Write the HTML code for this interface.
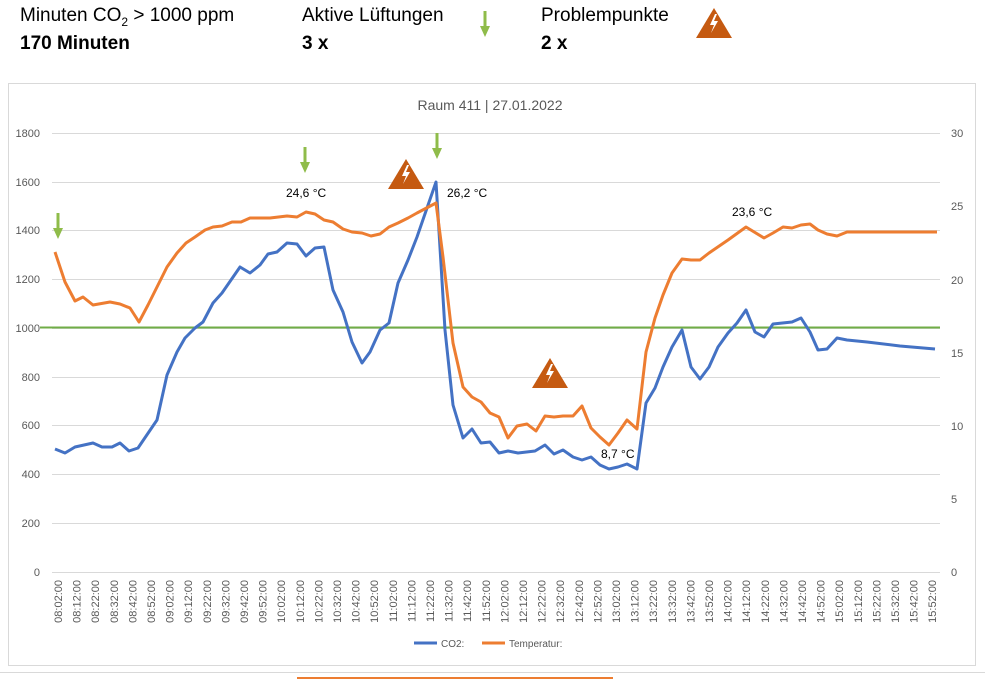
<!DOCTYPE html>
<html><head><meta charset="utf-8"><style>
body{margin:0;width:996px;height:680px;background:#fff;overflow:hidden;font-family:"Liberation Sans",sans-serif;position:relative}
.h{position:absolute;font-size:19px;color:#000}
.b{font-weight:bold}
</style></head><body>
<div class="h" style="left:20px;top:5px">Minuten CO<sub style="font-size:12px">2</sub> &gt; 1000 ppm</div>
<div class="h b" style="left:20px;top:33px">170 Minuten</div>
<div class="h" style="left:302px;top:5px">Aktive Lüftungen</div>
<div class="h b" style="left:302px;top:33px">3 x</div>
<div class="h" style="left:541px;top:5px">Problempunkte</div>
<div class="h b" style="left:541px;top:33px">2 x</div>
<svg width="996" height="680" style="position:absolute;left:0;top:0" font-family="Liberation Sans, sans-serif">
<defs>
<g id="arr"><rect x="-1.5" y="0" width="3" height="17" fill="#8fbc4a"/><polygon points="-5,15 5,15 0,26" fill="#8fbc4a"/></g>
<g id="tri"><polygon points="0,0 18,30 -18,30" fill="#c55a11"/><polygon points="1,6 -4,17 0,17 -3,25 4,13 0,13 3,6" fill="#fff"/></g>
</defs>
<use href="#arr" x="485" y="11"/>
<use href="#tri" x="714" y="8"/>
<rect x="8.5" y="83.5" width="967" height="582" fill="none" stroke="#d9d9d9"/>
<text x="490" y="110" text-anchor="middle" font-size="14" fill="#595959">Raum 411 | 27.01.2022</text>
<g stroke="#d9d9d9" stroke-width="1">
<line x1="52" x2="940" y1="572.5" y2="572.5"/><line x1="52" x2="940" y1="523.5" y2="523.5"/><line x1="52" x2="940" y1="474.5" y2="474.5"/><line x1="52" x2="940" y1="425.5" y2="425.5"/><line x1="52" x2="940" y1="377.5" y2="377.5"/><line x1="52" x2="940" y1="328.5" y2="328.5"/><line x1="52" x2="940" y1="279.5" y2="279.5"/><line x1="52" x2="940" y1="230.5" y2="230.5"/><line x1="52" x2="940" y1="182.5" y2="182.5"/><line x1="52" x2="940" y1="133.5" y2="133.5"/>
</g>
<g font-size="11" fill="#595959" text-anchor="end">
<text x="40" y="576">0</text><text x="40" y="527">200</text><text x="40" y="478">400</text><text x="40" y="429">600</text><text x="40" y="381">800</text><text x="40" y="332">1000</text><text x="40" y="283">1200</text><text x="40" y="234">1400</text><text x="40" y="186">1600</text><text x="40" y="137">1800</text>
</g>
<g font-size="11" fill="#595959">
<text x="951" y="576">0</text><text x="951" y="503">5</text><text x="951" y="430">10</text><text x="951" y="357">15</text><text x="951" y="284">20</text><text x="951" y="210">25</text><text x="951" y="137">30</text>
</g>
<g font-size="11" fill="#595959" text-anchor="end" id="xl"></g>
<line x1="40" x2="940" y1="327.5" y2="327.5" stroke="#70ad47" stroke-width="2"/>
<polyline fill="none" stroke="#4472c4" stroke-width="3" stroke-linejoin="round" points="55,449 65,453 75,447 93,443 102,447 112,447 120,443 129,451 138,448 157,420 167,375 177,352 185,338 195,328 203,322 213,303 222,293 240,267 250,273 260,265 268,254 277,252 287,243 297,244 306,256 315,248 324,247 333,290 343,312 352,342 362,363 370,352 380,330 389,323 398,283 408,260 417,237 436,182 445,330 453,405 463,438 472,429 481,443 490,442 499,453 508,451 518,453 535,451 545,445 554,454 563,450 573,457 582,460 591,457 600,465 609,469 618,467 627,464 637,469 646,403 655,388 663,367 672,347 682,330 691,367 700,379 709,367 718,347 728,333 737,323 746,310 755,332 764,337 773,324 792,322 801,318 810,332 818,350 827,349 837,338 847,340 867,342 900,346 935,349"/>
<polyline fill="none" stroke="#ed7d31" stroke-width="3" stroke-linejoin="round" points="55,252 65,282 75,301 83,297 93,305 110,302 120,304 130,308 139,322 148,305 158,285 167,267 177,253 186,243 195,237 205,230 213,227 222,226 232,222 241,222 250,218 270,218 287,216 297,217 306,212 315,214 324,220 333,222 343,229 352,232 362,233 371,236 380,234 389,227 398,223 408,218 417,213 436,203 443,257 453,343 463,387 472,397 481,402 490,413 499,417 508,438 517,426 527,424 536,431 545,416 554,417 563,416 573,416 582,406 591,428 600,437 609,445 618,433 627,420 637,429 646,352 655,318 663,295 672,273 682,259 691,260 700,260 709,253 728,240 746,227 764,238 773,233 783,227 792,228 801,225 810,224 818,230 827,234 837,236 847,232 937,232"/>
<use href="#arr" x="58" y="213"/><use href="#arr" x="305" y="147"/><use href="#arr" x="437" y="133"/>
<use href="#tri" x="406" y="159"/><use href="#tri" x="550" y="358"/>
<g font-size="12" fill="#000">
<text x="286" y="197">24,6 °C</text><text x="447" y="197">26,2 °C</text><text x="601" y="458">8,7 °C</text><text x="732" y="216">23,6 °C</text>
</g>
<line x1="414" x2="437" y1="643" y2="643" stroke="#4472c4" stroke-width="3"/>
<text x="441" y="647" font-size="10" fill="#595959">CO2:</text>
<line x1="482" x2="505" y1="643" y2="643" stroke="#ed7d31" stroke-width="3"/>
<text x="509" y="647" font-size="10" fill="#595959">Temperatur:</text>
<line x1="0" x2="985" y1="672.5" y2="672.5" stroke="#d9d9d9"/>
<line x1="297" x2="613" y1="678" y2="678" stroke="#ed7d31" stroke-width="2"/>
</svg>
<script>
var g=document.getElementById('xl'),s='';
for(var i=0;i<48;i++){var m=482+i*10,h=Math.floor(m/60),mm=m%60;var t=(h<10?'0':'')+h+':'+(mm<10?'0':'')+mm+':00';var x=58+i*18.6+4;
s+='<text transform="translate('+x.toFixed(1)+',580) rotate(-90)">'+t+'</text>';}
g.innerHTML=s;
</script>
</body></html>
